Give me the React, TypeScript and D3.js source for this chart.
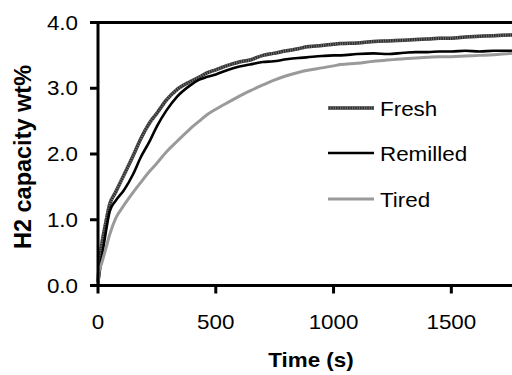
import React, { useEffect, useRef } from 'react';
import * as d3 from 'd3';

// Sample times (s)
const timeS = [0, 5, 15, 30, 50, 75, 110, 150, 180, 220, 250, 290, 335, 390, 430, 460, 500, 560, 600, 645, 700, 745, 800, 850, 885, 950, 1000, 1030, 1100, 1170, 1230, 1300, 1350, 1400, 1450, 1500, 1560, 1620, 1680, 1750, 1800];

const fresh = [0.05, 0.3, 0.6, 0.9, 1.24, 1.42, 1.68, 1.98, 2.22, 2.48, 2.62, 2.82, 2.98, 3.1, 3.17, 3.23, 3.28, 3.36, 3.4, 3.43, 3.5, 3.53, 3.57, 3.6, 3.63, 3.65, 3.67, 3.68, 3.69, 3.71, 3.72, 3.73, 3.74, 3.75, 3.76, 3.76, 3.78, 3.79, 3.8, 3.81, 3.82];
const remilled = [0.0, 0.15, 0.4, 0.74, 1.13, 1.29, 1.45, 1.7, 1.94, 2.2, 2.42, 2.66, 2.87, 3.04, 3.13, 3.17, 3.21, 3.29, 3.33, 3.36, 3.4, 3.41, 3.44, 3.46, 3.47, 3.49, 3.5, 3.5, 3.52, 3.53, 3.52, 3.54, 3.55, 3.55, 3.56, 3.56, 3.57, 3.56, 3.57, 3.57, 3.58];
const tired = [0.0, 0.22, 0.33, 0.52, 0.78, 1.02, 1.22, 1.42, 1.56, 1.74, 1.86, 2.03, 2.19, 2.38, 2.5, 2.59, 2.68, 2.8, 2.88, 2.96, 3.05, 3.12, 3.19, 3.24, 3.27, 3.31, 3.34, 3.36, 3.38, 3.41, 3.43, 3.45, 3.46, 3.47, 3.48, 3.48, 3.49, 3.5, 3.51, 3.53, 3.54];

const xTicks = [0, 500, 1000, 1500];
const yTicks = [0, 1, 2, 3, 4];
const legendNames = ['Fresh', 'Remilled', 'Tired'];

const SX = 1.12; // slight horizontal stretch of the text in the original picture

const App = () => {
  const ref = useRef<SVGSVGElement>(null);

  useEffect(() => {
    const width = 512;
    const svg = d3.select(ref.current);
    svg.selectAll('*').remove();

    const x = d3.scaleLinear().domain([0, 1800]).range([98, 522]);
    const y = d3.scaleLinear().domain([0, 4]).range([285.5, 22.5]);
    const font = '"Liberation Sans", Arial, sans-serif';

    const line = d3.line<number>()
      .x((d, i) => x(timeS[i]))
      .y((d) => y(d))
      .curve(d3.curveMonotoneX);

    // striped dark line used for "Fresh"
    const drawFresh = (sel: any) => {
      sel.append('path').attr('fill', 'none').attr('stroke', '#303030').attr('stroke-width', 3.5);
      sel.append('path').attr('fill', 'none').attr('stroke', '#7c7c7c').attr('stroke-width', 3.5)
        .attr('stroke-dasharray', '0.8 1.6');
    };
    const g = svg.append('g');
    const fg = g.append('g');
    drawFresh(fg);
    fg.selectAll('path').attr('d', line(fresh));
    g.append('path').attr('d', line(remilled)).attr('fill', 'none').attr('stroke', '#000').attr('stroke-width', 2.6);
    g.append('path').attr('d', line(tired)).attr('fill', 'none').attr('stroke', '#9a9a9a').attr('stroke-width', 3);

    // axes
    const ax = svg.append('g').attr('stroke', '#000').attr('stroke-width', 3);
    ax.append('line').attr('x1', x(0)).attr('x2', width).attr('y1', y(0)).attr('y2', y(0));
    ax.append('line').attr('x1', x(0)).attr('x2', x(0)).attr('y1', y(4) - 1.5).attr('y2', y(0) + 1.5);
    ax.append('line').attr('x1', x(0)).attr('x2', width).attr('y1', y(4)).attr('y2', y(4));
    yTicks.forEach((v) => {
      ax.append('line').attr('x1', x(0) - 8).attr('x2', x(0)).attr('y1', y(v)).attr('y2', y(v));
      svg.append('text')
        .attr('transform', `translate(78,${y(v) + 7}) scale(${SX},1)`)
        .attr('text-anchor', 'end').attr('font-family', font).attr('font-size', 20)
        .text(v.toFixed(1));
    });
    xTicks.forEach((v) => {
      ax.append('line').attr('x1', x(v)).attr('x2', x(v)).attr('y1', y(0)).attr('y2', y(0) + 8);
      svg.append('text')
        .attr('transform', `translate(${x(v)},329) scale(${SX},1)`)
        .attr('text-anchor', 'middle').attr('font-family', font).attr('font-size', 20)
        .text(v);
    });

    // axis titles
    svg.append('text')
      .attr('transform', `translate(311,367) scale(${SX},1)`)
      .attr('text-anchor', 'middle').attr('font-family', font).attr('font-size', 20).attr('font-weight', 'bold')
      .text('Time (s)');
    svg.append('text')
      .attr('transform', 'translate(31,157) rotate(-90)')
      .attr('text-anchor', 'middle').attr('font-family', font).attr('font-size', 23.5).attr('font-weight', 'bold')
      .text('H2 capacity wt%');

    // legend
    const ly = [108, 153, 199];
    legendNames.forEach((name, i) => {
      const seg = d3.line()([[328, ly[i]], [374, ly[i]]]);
      if (i === 0) {
        const lg = svg.append('g');
        drawFresh(lg);
        lg.selectAll('path').attr('d', seg);
      } else {
        svg.append('path').attr('d', seg).attr('fill', 'none')
          .attr('stroke', i === 1 ? '#000' : '#9a9a9a').attr('stroke-width', i === 1 ? 2.6 : 3);
      }
      svg.append('text')
        .attr('transform', `translate(380,${ly[i] + 7.5}) scale(${SX},1)`)
        .attr('font-family', font).attr('font-size', 20)
        .text(name);
    });

    return () => {
      svg.selectAll('*').remove();
    };
  }, []);

  return (
    <svg ref={ref} width={512} height={375}
      style={{ position: 'absolute', left: 0, top: 0, background: '#fff' }} />
  );
};

export default App;
